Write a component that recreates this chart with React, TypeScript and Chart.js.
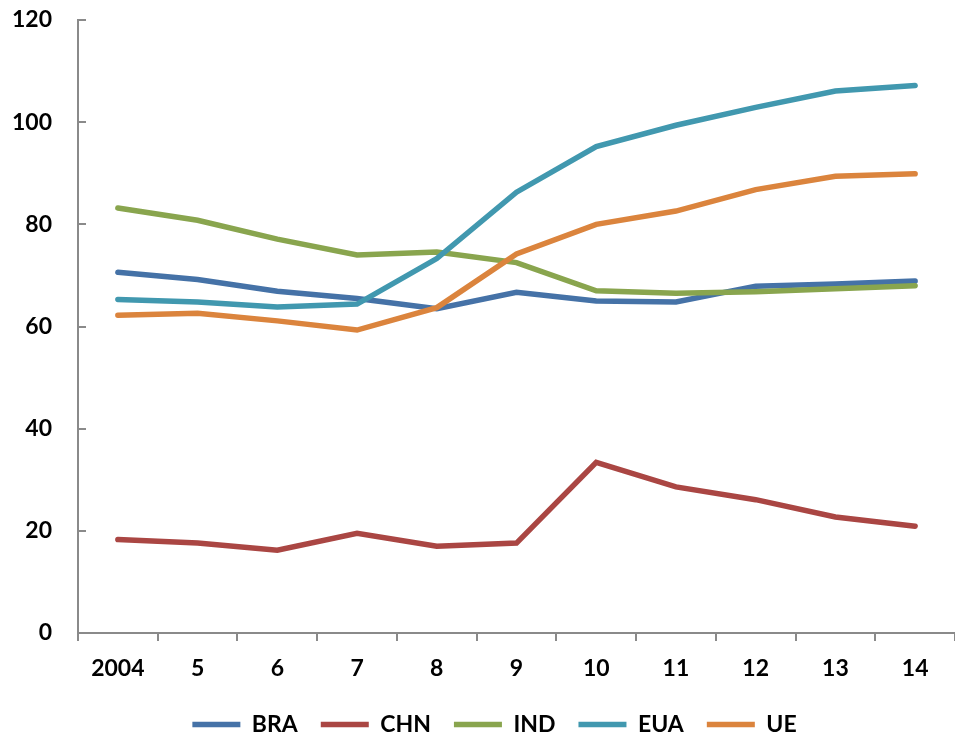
import React, { useEffect, useRef } from "react";
import { Chart, registerables } from "chart.js";

Chart.register(...registerables);

const years = ["2004", "5", "6", "7", "8", "9", "10", "11", "12", "13", "14"];

const bra = [70.6, 69.2, 66.9, 65.5, 63.5, 66.7, 65.0, 64.8, 67.9, 68.3, 68.9];
const chn = [18.3, 17.6, 16.2, 19.5, 17.0, 17.6, 33.4, 28.6, 26.1, 22.7, 20.9];
const ind = [83.2, 80.8, 77.1, 74.0, 74.6, 72.5, 67.0, 66.5, 66.8, 67.4, 68.0];
const eua = [65.3, 64.8, 63.8, 64.4, 73.3, 86.3, 95.2, 99.4, 102.9, 106.1, 107.2];
const ue = [62.2, 62.6, 61.1, 59.3, 63.7, 74.2, 80.0, 82.6, 86.8, 89.4, 89.9];

const seriesNames = ["BRA", "CHN", "IND", "EUA", "UE"];
const seriesValues = [bra, chn, ind, eua, ue];
const seriesColors = ["#4572A7", "#AA4643", "#89A54E", "#4198AF", "#DB843D"];

const AXIS_GREY = "#8a8a8a";
const FONT = { family: "Lato, 'Open Sans', sans-serif", size: 23, weight: "bold" as const };

// Short tick marks on the inner side of the value axis.
const innerYTicks = {
  id: "innerYTicks",
  afterDraw(chart: Chart) {
    const y = chart.scales.y;
    const left = chart.chartArea.left;
    const ctx = chart.ctx;
    ctx.save();
    ctx.strokeStyle = AXIS_GREY;
    ctx.lineWidth = 2;
    y.ticks.forEach((t) => {
      const py = Math.round(y.getPixelForValue(t.value));
      ctx.beginPath();
      ctx.moveTo(left, py);
      ctx.lineTo(left + 8, py);
      ctx.stroke();
    });
    ctx.restore();
  },
};

// Nudge the legend row a little to the right of the canvas centre.
const legendShift = {
  id: "legendShift",
  afterLayout(chart: Chart) {
    const lg: any = (chart as any).legend;
    if (lg) {
      lg.left += 17;
      lg.right += 17;
    }
  },
};

export default function App() {
  const ref = useRef<HTMLCanvasElement>(null);

  useEffect(() => {
    if (!ref.current) return;
    const chart = new Chart(ref.current, {
      type: "line",
      data: {
        labels: years,
        datasets: seriesNames.map((name, i) => ({
          label: name,
          data: seriesValues[i],
          borderColor: seriesColors[i],
          backgroundColor: seriesColors[i],
          borderWidth: 5.5,
          borderCapStyle: "round" as const,
          pointRadius: 0,
          pointHoverRadius: 0,
          tension: 0,
          order: seriesNames.length - i,
        })),
      },
      options: {
        responsive: false,
        animation: false,
        layout: { padding: { left: 0, right: 0, top: 20, bottom: 0 } },
        plugins: {
          tooltip: { enabled: false },
          legend: {
            position: "bottom",
            labels: {
              usePointStyle: true,
              pointStyle: "line",
              pointStyleWidth: 48,
              boxHeight: 23,
              padding: 23,
              color: "#000",
              font: FONT,
              sort: (a, b) => (a.datasetIndex ?? 0) - (b.datasetIndex ?? 0),
            },
          },
        },
        scales: {
          x: {
            offset: true,
            grid: {
              offset: true,
              drawOnChartArea: false,
              drawTicks: true,
              tickLength: 8,
              color: AXIS_GREY,
              lineWidth: 2,
            },
            border: { color: AXIS_GREY, width: 2 },
            ticks: { color: "#000", font: FONT, padding: 14, maxRotation: 0, autoSkip: false },
            afterFit: (s) => {
              s.height = 57;
            },
          },
          y: {
            min: 0,
            max: 120,
            grid: { display: false, drawTicks: false },
            border: { color: AXIS_GREY, width: 2 },
            ticks: { stepSize: 20, color: "#000", font: FONT, padding: 26 },
            afterFit: (s: any) => {
              s.width = 78;
              s.paddingTop = 14;
              s.paddingBottom = 14;
            },
          },
        },
      },
      plugins: [innerYTicks, legendShift],
    });
    return () => chart.destroy();
  }, []);

  return (
    <div
      style={{
        position: "fixed",
        left: 0,
        top: 0,
        width: 955,
        height: 734,
        overflow: "hidden",
        background: "#fff",
      }}
    >
      <canvas ref={ref} width={955} height={746} style={{ display: "block" }} />
    </div>
  );
}
